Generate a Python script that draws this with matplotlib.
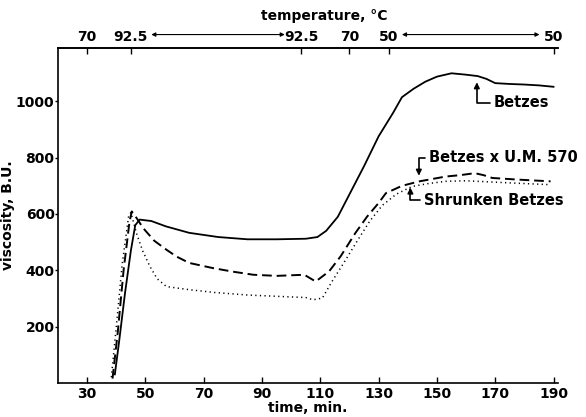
import matplotlib.pyplot as plt
import matplotlib.transforms as mtransforms

# time (min) and viscosity (B.U.)
betzes_t = [39.5, 41, 43, 45, 46.5, 48, 52, 57, 65, 75, 85, 95, 105, 109, 112, 116,
            120, 125, 130, 135, 138, 142, 146, 150, 155, 160, 164, 167, 170, 175,
            180, 185, 190]
betzes_v = [30, 150, 320, 470, 560, 580, 575, 556, 533, 518, 510, 510, 512, 518, 540, 590,
            670, 770, 876, 960, 1015, 1045, 1070, 1088, 1100, 1095, 1090, 1080, 1065, 1062,
            1060, 1057, 1052]

cross_t = [38.7, 40.5, 42.5, 44.5, 45.3, 47, 49.2, 53, 57.2, 60.6, 65, 73, 80, 87, 95,
           104.5, 108.4, 113, 117, 122, 126, 130, 132.5, 138, 144, 153, 158, 163, 166,
           169, 178, 189]
cross_v = [15, 180, 400, 570, 609, 585, 550, 505, 473, 449, 426, 408, 395, 384, 380,
           384, 360, 396, 450, 532, 590, 639, 674, 700, 716, 733, 738, 745, 738,
           728, 722, 716]

shrunk_t = [38.3, 40, 42, 44.2, 45, 46.9, 49, 51.5, 54, 57.2, 65, 73.7, 85, 95.9, 105,
            107.5, 110.7, 114, 118.7, 123, 127, 131.2, 136, 141.5, 147, 153, 160, 164,
            170, 176, 189]
shrunk_v = [20, 200, 420, 590, 605, 532, 470, 414, 370, 342, 331, 321, 312, 307, 303,
            295, 301, 360, 437, 510, 575, 630, 670, 698, 708, 716, 718, 716,
            713, 710, 704]

x_ticks = [30, 50, 70, 90, 110, 130, 150, 170, 190]
y_ticks = [200, 400, 600, 800, 1000]

temp_pos = [30, 45, 103.5, 120, 133.5, 190]
temp_labels = ['70', '92.5', '92.5', '70', '50', '50']
hold_spans = [(52, 97.8), (138, 185.2)]

plt.rcParams['font.family'] = 'DejaVu Sans'
plt.rcParams['font.weight'] = 'bold'

fig = plt.figure(figsize=(5.86, 4.17), dpi=100)
ax = fig.add_axes([0.099, 0.082, 0.853, 0.803])

ax.plot(betzes_t, betzes_v, color='black', lw=1.3, solid_joinstyle='round')
ax.plot(cross_t, cross_v, color='black', lw=1.4, dashes=(5, 2.5))
ax.plot(shrunk_t, shrunk_v, color='black', lw=1.1, dashes=(0.8, 2.2))

ax.set_xlim(20, 191.5)
ax.set_ylim(0, 1190)

ax.spines['right'].set_visible(False)
for s in ['left', 'bottom', 'top']:
    ax.spines[s].set_linewidth(1.2)

ax.set_xticks(x_ticks)
ax.set_yticks(y_ticks)
ax.tick_params(axis='x', direction='in', length=4, width=1, labelsize=10, pad=3)
ax.tick_params(axis='y', direction='out', length=2, width=1, labelsize=10, pad=0.5)
ax.set_xlabel('time, min.', fontsize=10, fontweight='bold', labelpad=0)
ax.set_ylabel('viscosity, B.U.', fontsize=10, fontweight='bold', labelpad=1)

# temperature axis on top
top = ax.secondary_xaxis('top')
top.set_xticks(temp_pos)
top.set_xticklabels(temp_labels)
top.tick_params(direction='in', length=4, width=1, labelsize=10, pad=3)
top.spines['top'].set_linewidth(1.2)
fig.text(0.553, 0.962, 'temperature, \u00b0C', ha='center', va='center',
         fontsize=10, fontweight='bold')

trans = mtransforms.blended_transform_factory(ax.transData, ax.transAxes)
for x0, x1 in hold_spans:
    ax.annotate('', xy=(x1, 1.04), xytext=(x0, 1.04), xycoords=trans, textcoords=trans,
                arrowprops=dict(arrowstyle='<|-|>', lw=0.8, color='black',
                                mutation_scale=6, shrinkA=0, shrinkB=0),
                annotation_clip=False)

# curve labels
arrow = dict(arrowstyle='-|>', lw=1.2, color='black', mutation_scale=8,
             shrinkA=1, shrinkB=0, connectionstyle='angle,angleA=0,angleB=90,rad=0')
ax.annotate('Betzes', xy=(163.7, 1068), xytext=(169.5, 995), fontsize=10.5,
            fontweight='bold', ha='left', va='center', arrowprops=arrow)
ax.annotate('Betzes x U.M. 570', xy=(143.8, 736), xytext=(147.2, 800), fontsize=10.5,
            fontweight='bold', ha='left', va='center', arrowprops=arrow)
ax.annotate('Shrunken Betzes', xy=(140.9, 694), xytext=(145.5, 648), fontsize=10.5,
            fontweight='bold', ha='left', va='center', arrowprops=arrow)

fig.savefig('out.png', dpi=100)
